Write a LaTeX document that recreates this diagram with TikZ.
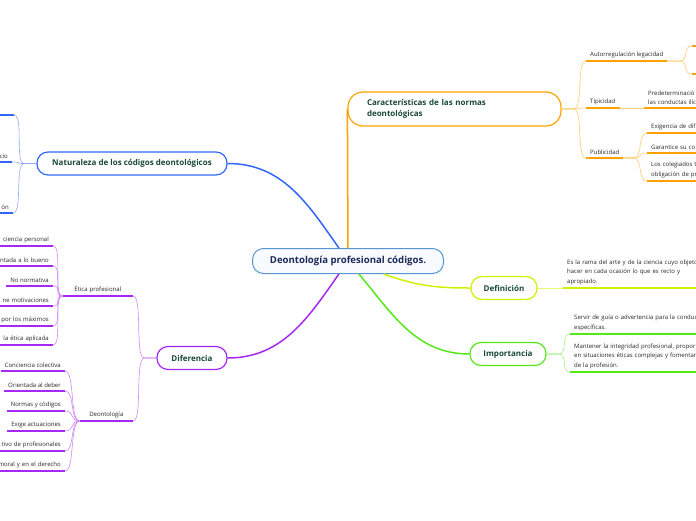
\documentclass[tikz,border=0pt]{standalone}
\usepackage{fontspec}
\setmainfont{Open Sans}
\usepackage{xcolor}
\usetikzlibrary{positioning,calc}
\definecolor{mmblue}{RGB}{51,102,255}
\definecolor{mmorange}{RGB}{255,162,0}
\definecolor{mmpurple}{RGB}{165,40,245}
\definecolor{mmlime}{RGB}{208,240,0}
\definecolor{mmgreen}{RGB}{85,232,25}
\definecolor{rootedge}{RGB}{85,150,210}
\definecolor{rootfill}{RGB}{247,250,255}
\definecolor{roottext}{RGB}{28,42,88}
\definecolor{topictext}{RGB}{25,72,55}
\definecolor{leaftext}{RGB}{40,40,40}

\begin{document}
\begin{tikzpicture}[x=1pt,y=-1pt,
  root/.style={draw=rootedge,line width=1pt,fill=rootfill,rounded corners=11pt,
    minimum width=191pt,minimum height=25pt,inner sep=0pt,text=roottext,
    font=\fontsize{9.6}{11}\selectfont\bfseries},
  topic/.style={draw=#1,line width=1.2pt,fill=white,rounded corners=11pt,
    minimum height=23pt,inner sep=0pt,text=topictext,
    font=\fontsize{8}{11.5}\selectfont\bfseries},
  leaf/.style={inner xsep=4pt,inner ysep=3pt,text=leaftext,
    font=\fontsize{6}{9.5}\selectfont,
    append after command={(\tikzlastnode.south west)
      edge[line width=1.4pt,#1] (\tikzlastnode.south east)}},
  branch/.style={line width=1.5pt,#1},
  link/.style={line width=0.6pt,#1!55},
  rfork/.style={out=0,in=180,distance=10pt},
  lfork/.style={out=180,in=0,distance=10pt}]
\useasboundingbox (0,0) rectangle (696,520);
\clip (0,0) rectangle (696,520);
\fill[white] (0,0) rectangle (696,520);

\node[root] (root) at (348,261) {Deontología profesional códigos.};

\node[topic=mmorange,rounded corners=15pt,minimum width=213pt,minimum height=34pt,
  text width=175pt,align=left] (car) at (454.5,109)
  {Características de las normas\\deontológicas};
\node[topic=mmblue,minimum width=190pt] (nat) at (132,163.5)
  {Naturaleza de los códigos deontológicos};
\node[topic=mmpurple,minimum width=70pt] (dif) at (192,358) {Diferencia};
\node[topic=mmlime,minimum width=66pt] (def) at (504,288) {Definición};
\node[topic=mmgreen,minimum width=76pt] (imp) at (508,354) {Importancia};

\draw[branch=mmorange] (root) -- (car.west);
\draw[branch=mmblue] (root) to[out=125,in=0] (nat);
\draw[branch=mmpurple] (root) to[out=-125,in=0] (dif);
\draw[branch=mmlime] (root) to[out=-20,in=180] (def);
\draw[branch=mmgreen] (root) to[out=-50,in=180] (imp);

\node[leaf=mmorange,anchor=south west] (auto) at (586,61) {Autorregulación legacidad};
\node[leaf=mmorange,anchor=south west] (tip) at (586,108) {Tipicidad};
\node[leaf=mmorange,anchor=south west] (pub) at (586,158) {Publicidad};
\node[leaf=mmorange,anchor=south west,minimum width=20pt] (autoa) at (692,46) {};
\node[leaf=mmorange,anchor=south west,minimum width=20pt] (autob) at (692,74) {};
\node[leaf=mmorange,anchor=south west,text width=80pt,align=left] (pred) at (644,108)
  {Predeterminació\\las conductas ilíc};
\node[leaf=mmorange,anchor=south west,text width=80pt,align=left] (exig) at (647,133)
  {Exigencia de difu};
\node[leaf=mmorange,anchor=south west,text width=80pt,align=left] (gara) at (647,153)
  {Garantice su co};
\node[leaf=mmorange,anchor=south west,text width=80pt,align=left] (cole) at (647,181)
  {Los colegiados t\\obligación de pr};

\draw[link=mmorange] (car.east) -- ++(12,0) to[rfork] (auto.south west);
\draw[link=mmorange] (car.east) -- (tip.south west);
\draw[link=mmorange] (car.east) -- ++(12,0) to[rfork] (pub.south west);
\draw[link=mmorange] (auto.south east) -- ++(12,0) to[rfork] (autoa.south west);
\draw[link=mmorange] (auto.south east) -- ++(12,0) to[rfork] (autob.south west);
\draw[link=mmorange] (tip.south east) -- (pred.south west);
\draw[link=mmorange] (pub.south east) -- ++(10,0) to[rfork] (exig.south west);
\draw[link=mmorange] (pub.south east) -- ++(10,0) to[rfork] (gara.south west);
\draw[link=mmorange] (pub.south east) -- ++(10,0) to[rfork] (cole.south west);

\node[leaf=mmlime,anchor=south west,text width=150pt,align=left] (defx) at (563,288)
  {Es la rama del arte y de la ciencia cuyo objeto e\\hacer en cada ocasión lo que es recto y\\apropiado.};
\draw[link=mmlime] (def) -- (defx.south west);

\node[leaf=mmgreen,anchor=south west,text width=150pt,align=left] (serv) at (570,334)
  {Servir de guía o advertencia para la conduc\\específicas.};
\node[leaf=mmgreen,anchor=south west,text width=150pt,align=left] (mant) at (570,372)
  {Mantener la integridad profesional, propor\\en situaciones éticas complejas y fomentar\\de la profesión.};
\draw[link=mmgreen] (imp.east) -- ++(12,0) to[rfork] (serv.south west);
\draw[link=mmgreen] (imp.east) -- ++(12,0) to[rfork] (mant.south west);

\node[leaf=mmblue,anchor=south east,text width=60pt] (nata) at (14,115) {};
\node[leaf=mmblue,anchor=south east,text width=60pt,align=right] (natb) at (12,162) {cio};
\node[leaf=mmblue,anchor=south east,text width=60pt,align=right] (natc) at (13,213) {ón};
\draw[link=mmblue] (nat.west) -- ++(-12,0) to[lfork] (nata.south east);
\draw[link=mmblue] (nat.west) -- ++(-12,0) to[lfork] (natb.south east);
\draw[link=mmblue] (nat.west) -- ++(-12,0) to[lfork] (natc.south east);

\node[leaf=mmpurple,anchor=south east,text width=62pt,align=center] (etica) at (133,296)
  {Ética profesional};
\node[leaf=mmpurple,anchor=south east,text width=45pt,align=center] (deon) at (133,421)
  {Deontología};
\draw[link=mmpurple] (dif.west) -- ++(-12,0) to[lfork] (etica.south east);
\draw[link=mmpurple] (dif.west) -- ++(-12,0) to[lfork] (deon.south east);

\node[leaf=mmpurple,anchor=south east,text width=70pt,align=right] (epa) at (53,246) {ciencia personal};
\node[leaf=mmpurple,anchor=south east,text width=70pt,align=right] (epb) at (53,266) {ntada a lo bueno};
\node[leaf=mmpurple,anchor=south east] (epc) at (53,286) {No normativa};
\node[leaf=mmpurple,anchor=south east,text width=70pt,align=right] (epd) at (53,306) {ne motivaciones};
\node[leaf=mmpurple,anchor=south east,text width=70pt,align=right] (epe) at (53,326) {por los máximos};
\node[leaf=mmpurple,anchor=south east,text width=70pt,align=right] (epf) at (53,345) {la ética aplicada};
\draw[link=mmpurple] (etica.south west) to[lfork] (epa.south east);
\draw[link=mmpurple] (etica.south west) to[lfork] (epb.south east);
\draw[link=mmpurple] (etica.south west) to[lfork] (epc.south east);
\draw[link=mmpurple] (etica.south west) to[lfork] (epd.south east);
\draw[link=mmpurple] (etica.south west) to[lfork] (epe.south east);
\draw[link=mmpurple] (etica.south west) to[lfork] (epf.south east);

\node[leaf=mmpurple,anchor=south east] (dea) at (65,371) {Conciencia colectiva};
\node[leaf=mmpurple,anchor=south east] (deb) at (65,391) {Orientada al deber};
\node[leaf=mmpurple,anchor=south east] (dec) at (65,411) {Normas y códigos};
\node[leaf=mmpurple,anchor=south east] (ded) at (65,431) {Exige actuaciones};
\node[leaf=mmpurple,anchor=south east,text width=70pt,align=right] (dee) at (65,451) {tivo de profesionales};
\node[leaf=mmpurple,anchor=south east,text width=70pt,align=right] (def2) at (65,471) {moral y en el derecho};
\draw[link=mmpurple] (deon.south west) to[lfork] (dea.south east);
\draw[link=mmpurple] (deon.south west) to[lfork] (deb.south east);
\draw[link=mmpurple] (deon.south west) to[lfork] (dec.south east);
\draw[link=mmpurple] (deon.south west) to[lfork] (ded.south east);
\draw[link=mmpurple] (deon.south west) to[lfork] (dee.south east);
\draw[link=mmpurple] (deon.south west) to[lfork] (def2.south east);
\end{tikzpicture}
\end{document}
